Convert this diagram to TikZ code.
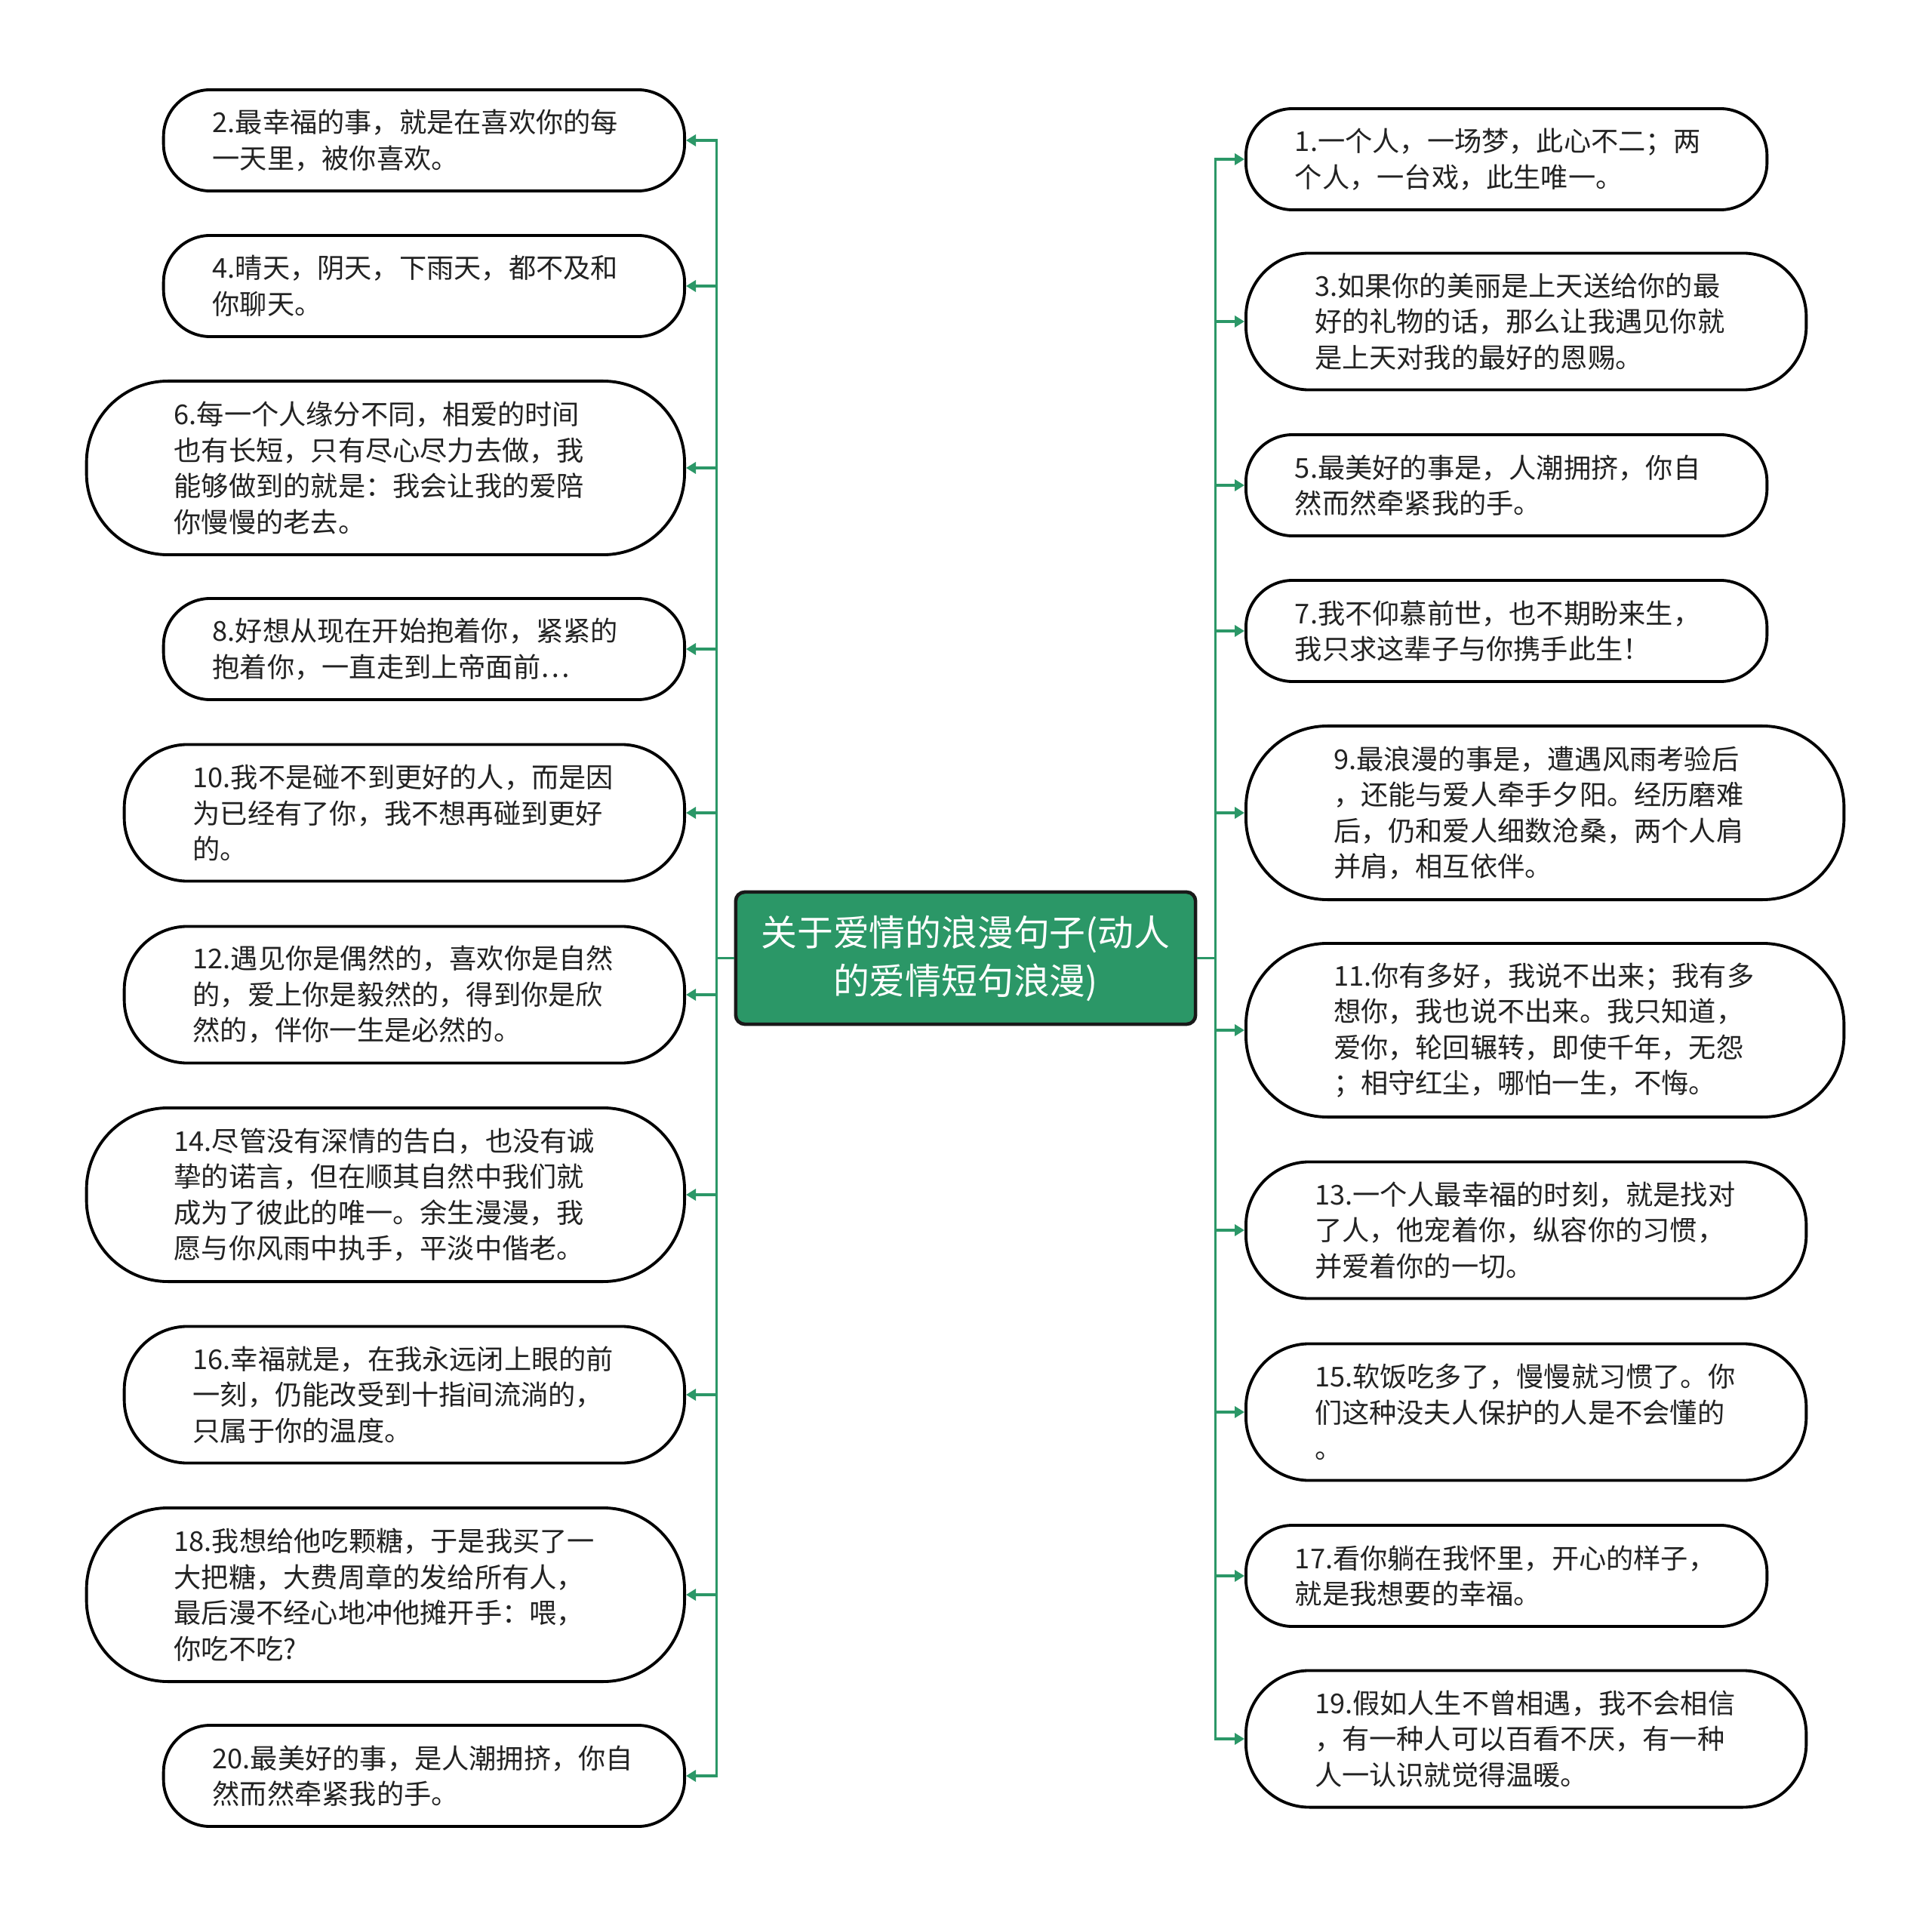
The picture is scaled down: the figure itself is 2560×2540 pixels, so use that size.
\documentclass[tikz,border=0pt]{standalone}
\usepackage{fontspec}
\setmainfont{Noto Sans CJK SC}
\usetikzlibrary{arrows.meta}
\definecolor{gr}{HTML}{2B9767}
\definecolor{tx}{HTML}{222222}
\tikzset{
  leaf/.style={draw=black, line width=1.1pt, fill=white, text=tx, text width=5.6cm,
    align=left, inner ysep=0pt, font=\fontsize{10.3pt}{13.5pt}\selectfont},
  two/.style={leaf, minimum height=1.34cm, inner xsep=0.65cm, rounded corners=0.62cm},
  three/.style={leaf, minimum height=1.81cm, inner xsep=0.91cm, rounded corners=0.84cm},
  four/.style={leaf, minimum height=2.30cm, inner xsep=1.16cm, rounded corners=1.08cm},
  rootbox/.style={draw=black!90, line width=1.3pt, fill=gr, text=white, rounded corners=0.12cm,
    minimum width=6.09cm, minimum height=1.75cm, text width=5.9cm, align=center, inner sep=0pt,
    font=\fontsize{13.6pt}{18.2pt}\selectfont},
  conn/.style={draw=gr, line width=1pt, -{Triangle[length=0.13cm,width=0.15cm]}}
}
\begin{document}
\begin{tikzpicture}[x=0.01cm, y=-0.01cm]
\useasboundingbox (0,0) rectangle (2560,2540);

\node[rootbox] (C) at (1279.5,1269.5) {关于爱情的浪漫句子(动人\\的爱情短句浪漫)};

% left side
\node[two,  anchor=east] (L2)  at (909,186)  {2.最幸福的事，就是在喜欢你的每\\一天里，被你喜欢。};
\node[two,  anchor=east] (L4)  at (909,379)  {4.晴天，阴天，下雨天，都不及和\\你聊天。};
\node[four, anchor=east] (L6)  at (909,620)  {6.每一个人缘分不同，相爱的时间\\也有长短，只有尽心尽力去做，我\\能够做到的就是：我会让我的爱陪\\你慢慢的老去。};
\node[two,  anchor=east] (L8)  at (909,860)  {8.好想从现在开始抱着你，紧紧的\\抱着你，一直走到上帝面前…};
\node[three,anchor=east] (L10) at (909,1077) {10.我不是碰不到更好的人，而是因\\为已经有了你，我不想再碰到更好\\的。};
\node[three,anchor=east] (L12) at (909,1318) {12.遇见你是偶然的，喜欢你是自然\\的，爱上你是毅然的，得到你是欣\\然的，伴你一生是必然的。};
\node[four, anchor=east] (L14) at (909,1583) {14.尽管没有深情的告白，也没有诚\\挚的诺言，但在顺其自然中我们就\\成为了彼此的唯一。余生漫漫，我\\愿与你风雨中执手，平淡中偕老。};
\node[three,anchor=east] (L16) at (909,1848) {16.幸福就是，在我永远闭上眼的前\\一刻，仍能改受到十指间流淌的，\\只属于你的温度。};
\node[four, anchor=east] (L18) at (909,2113) {18.我想给他吃颗糖，于是我买了一\\大把糖，大费周章的发给所有人，\\最后漫不经心地冲他摊开手：喂，\\你吃不吃?};
\node[two,  anchor=east] (L20) at (909,2353) {20.最美好的事，是人潮拥挤，你自\\然而然牵紧我的手。};

% right side
\node[two,  anchor=west] (R1)  at (1649,211)  {1.一个人，一场梦，此心不二；两\\个人，一台戏，此生唯一。};
\node[three,anchor=west] (R3)  at (1649,426)  {3.如果你的美丽是上天送给你的最\\好的礼物的话，那么让我遇见你就\\是上天对我的最好的恩赐。};
\node[two,  anchor=west] (R5)  at (1649,643)  {5.最美好的事是，人潮拥挤，你自\\然而然牵紧我的手。};
\node[two,  anchor=west] (R7)  at (1649,836)  {7.我不仰慕前世，也不期盼来生，\\我只求这辈子与你携手此生！};
\node[four, anchor=west] (R9)  at (1649,1077) {9.最浪漫的事是，遭遇风雨考验后\\，还能与爱人牵手夕阳。经历磨难\\后，仍和爱人细数沧桑，两个人肩\\并肩，相互依伴。};
\node[four, anchor=west] (R11) at (1649,1365) {11.你有多好，我说不出来；我有多\\想你，我也说不出来。我只知道，\\爱你，轮回辗转，即使千年，无怨\\；相守红尘，哪怕一生，不悔。};
\node[three,anchor=west] (R13) at (1649,1630) {13.一个人最幸福的时刻，就是找对\\了人，他宠着你，纵容你的习惯，\\并爱着你的一切。};
\node[three,anchor=west] (R15) at (1649,1871) {15.软饭吃多了，慢慢就习惯了。你\\们这种没夫人保护的人是不会懂的\\。};
\node[two,  anchor=west] (R17) at (1649,2088) {17.看你躺在我怀里，开心的样子，\\就是我想要的幸福。};
\node[three,anchor=west] (R19) at (1649,2304) {19.假如人生不曾相遇，我不会相信\\，有一种人可以百看不厌，有一种\\人一认识就觉得温暖。};

% connectors
\foreach \n in {L2,L4,L6,L8,L10,L12,L14,L16,L18,L20}
  \draw[conn] (C.west) -- ++(-23,0) |- (\n.east);
\foreach \n in {R1,R3,R5,R7,R9,R11,R13,R15,R17,R19}
  \draw[conn] (C.east) -- ++(24,0) |- (\n.west);
\end{tikzpicture}
\end{document}
